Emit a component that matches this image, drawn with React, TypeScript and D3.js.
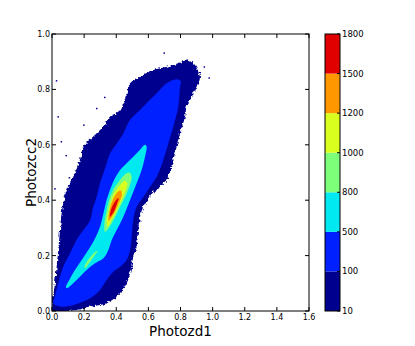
import React from 'react';
import * as d3 from 'd3';

// contour levels and colours (jet, discrete)
const levels = [10, 100, 500, 800, 1000, 1200, 1500, 1800];
const levelColors = ['#00008f', '#0020ff', '#00e8f0', '#7dff7a', '#d8ff1e', '#ff9700', '#e00000'];

const xTicks = [0, 0.2, 0.4, 0.6, 0.8, 1.0, 1.2, 1.4, 1.6];
const yTicks = [0, 0.2, 0.4, 0.6, 0.8, 1.0];

// contour outlines, [photozd1, photozcc2]
const contour10: [number, number][] = [
  [0, 0], [0.15, 0.004], [0.237, 0.016], [0.34, 0.028], [0.424, 0.064], [0.465, 0.1],
  [0.486, 0.136], [0.506, 0.196], [0.527, 0.232], [0.537, 0.292], [0.548, 0.34],
  [0.569, 0.376], [0.61, 0.412], [0.641, 0.436], [0.672, 0.448], [0.714, 0.473],
  [0.755, 0.545], [0.776, 0.593], [0.797, 0.641], [0.828, 0.701], [0.838, 0.737],
  [0.859, 0.761], [0.9, 0.81], [0.921, 0.84], [0.911, 0.864], [0.88, 0.894],
  [0.838, 0.904], [0.797, 0.897], [0.755, 0.888], [0.714, 0.882], [0.631, 0.87],
  [0.548, 0.846], [0.486, 0.822], [0.465, 0.786], [0.424, 0.726], [0.361, 0.702],
  [0.32, 0.666], [0.257, 0.63], [0.195, 0.594], [0.174, 0.545], [0.133, 0.485],
  [0.091, 0.437], [0.07, 0.389], [0.06, 0.353], [0.05, 0.292], [0.039, 0.22],
  [0.029, 0.16], [0.018, 0.1], [0.008, 0.053],
];

const contour100: [number, number][] = [
  [0.008, 0.028], [0.05, 0.016], [0.133, 0.022], [0.237, 0.046], [0.299, 0.076],
  [0.34, 0.112], [0.382, 0.142], [0.424, 0.16], [0.465, 0.184], [0.486, 0.22],
  [0.496, 0.268], [0.506, 0.328], [0.527, 0.376], [0.569, 0.412], [0.61, 0.448],
  [0.652, 0.485], [0.693, 0.545], [0.724, 0.605], [0.755, 0.665], [0.786, 0.737],
  [0.797, 0.81], [0.803, 0.828], [0.786, 0.836], [0.755, 0.834], [0.714, 0.822],
  [0.652, 0.786], [0.589, 0.75], [0.548, 0.726], [0.486, 0.69], [0.444, 0.641],
  [0.403, 0.605], [0.361, 0.569], [0.34, 0.533], [0.32, 0.497], [0.299, 0.461],
  [0.278, 0.412], [0.257, 0.376], [0.237, 0.328], [0.195, 0.292], [0.153, 0.256],
  [0.112, 0.208], [0.07, 0.16], [0.039, 0.1], [0.018, 0.052],
];

const contour500: [number, number][] = [
  [0.091, 0.082], [0.153, 0.112], [0.216, 0.148], [0.268, 0.172], [0.32, 0.19],
  [0.351, 0.22], [0.372, 0.256], [0.403, 0.292], [0.444, 0.34], [0.486, 0.401],
  [0.527, 0.461], [0.558, 0.509], [0.579, 0.557], [0.589, 0.594], [0.579, 0.6],
  [0.548, 0.582], [0.506, 0.557], [0.465, 0.533], [0.424, 0.509], [0.392, 0.479],
  [0.365, 0.443], [0.34, 0.401], [0.32, 0.352], [0.299, 0.304], [0.268, 0.262],
  [0.226, 0.22], [0.185, 0.184], [0.143, 0.148], [0.108, 0.112], [0.087, 0.088],
];

const contour800: [number, number][] = [
  [0.33, 0.286], [0.372, 0.316], [0.424, 0.376], [0.465, 0.424], [0.496, 0.485],
  [0.481, 0.5], [0.455, 0.494], [0.424, 0.473], [0.392, 0.449], [0.361, 0.412],
  [0.34, 0.364], [0.326, 0.316],
];
const contour800b: [number, number][] = [
  [0.205, 0.154], [0.237, 0.178], [0.274, 0.208], [0.284, 0.217], [0.27, 0.214],
  [0.237, 0.194], [0.205, 0.166],
];

const contour1000: [number, number][] = [
  [0.345, 0.304], [0.378, 0.334], [0.419, 0.382], [0.448, 0.418], [0.469, 0.461],
  [0.455, 0.47], [0.424, 0.455], [0.392, 0.431], [0.367, 0.398], [0.351, 0.358],
  [0.34, 0.325],
];

const contour1200: [number, number][] = [
  [0.353, 0.325], [0.386, 0.352], [0.415, 0.388], [0.436, 0.421], [0.427, 0.436],
  [0.403, 0.426], [0.376, 0.398], [0.357, 0.361],
];

const contour1500: [number, number][] = [
  [0.361, 0.34], [0.386, 0.359], [0.405, 0.388], [0.415, 0.408], [0.403, 0.403],
  [0.382, 0.385], [0.365, 0.361],
];

// stray low-density cells outside the outer contour
const strays: [number, number][] = [
  [0.03, 0.83], [0.04, 0.7], [0.11, 0.48], [0.98, 0.84], [0.06, 0.61], [0.09, 0.56],
  [0.2, 0.67], [0.28, 0.73], [0.33, 0.77], [0.95, 0.88], [0.7, 0.93], [0.02, 0.44],
];

const layers = [
  { pts: [contour10], lvl: 0 },
  { pts: [contour100], lvl: 1 },
  { pts: [contour500], lvl: 2 },
  { pts: [contour800, contour800b], lvl: 3 },
  { pts: [contour1000], lvl: 4 },
  { pts: [contour1200], lvl: 5 },
  { pts: [contour1500], lvl: 6 },
];

const W = 415, H = 346;
const m = { left: 52, right: 309, top: 34, bottom: 311 };
const cb = { x: 325, w: 15 };

export default function App() {
  const x = d3.scaleLinear().domain([0, 1.6]).range([m.left, m.right]);
  const y = d3.scaleLinear().domain([0, 1.0]).range([m.bottom, m.top]);
  const cy = d3.scaleLinear().domain([0, levels.length - 1]).range([m.bottom, m.top]);

  const line = d3.line<[number, number]>()
    .x(d => x(d[0]))
    .y(d => y(d[1]))
    .curve(d3.curveCatmullRomClosed.alpha(0.5));

  const font = 'DejaVu Sans, sans-serif';

  return (
    <svg width={W} height={H} style={{ position: 'absolute', left: 0, top: 0, background: '#fff' }}>
      <defs>
        <clipPath id="plotclip">
          <rect x={m.left} y={m.top} width={m.right - m.left} height={m.bottom - m.top} />
        </clipPath>
        <filter id="rough" x="-10%" y="-10%" width="120%" height="120%">
          <feTurbulence type="fractalNoise" baseFrequency="0.35" numOctaves={2} seed={3} />
          <feDisplacementMap in="SourceGraphic" scale={5} xChannelSelector="R" yChannelSelector="G" />
        </filter>
      </defs>

      <g clipPath="url(#plotclip)">
        {layers.map((l, i) =>
          l.pts.map((p, j) => (
            <path key={`${i}-${j}`} d={line(p) || ''} fill={levelColors[l.lvl]}
              filter={i === 0 ? 'url(#rough)' : undefined} />
          ))
        )}
        {strays.map((d, i) => (
          <rect key={i} x={x(d[0]) - 1} y={y(d[1]) - 1} width={1.5} height={1.5} fill={levelColors[0]} />
        ))}
      </g>

      {/* frame */}
      <rect x={m.left} y={m.top} width={m.right - m.left} height={m.bottom - m.top}
        fill="none" stroke="#000" strokeWidth={1} />

      {xTicks.map(t => (
        <g key={`x${t}`}>
          <line x1={x(t)} x2={x(t)} y1={m.bottom} y2={m.bottom - 4} stroke="#000" />
          <line x1={x(t)} x2={x(t)} y1={m.top} y2={m.top + 4} stroke="#000" />
          <text x={x(t)} y={m.bottom + 9} fontSize={8} fontFamily={font} textAnchor="middle">
            {t.toFixed(1)}
          </text>
        </g>
      ))}
      {yTicks.map(t => (
        <g key={`y${t}`}>
          <line x1={m.left} x2={m.left + 4} y1={y(t)} y2={y(t)} stroke="#000" />
          <line x1={m.right} x2={m.right - 4} y1={y(t)} y2={y(t)} stroke="#000" />
          <text x={m.left - 2} y={y(t) + 3} fontSize={8} fontFamily={font} textAnchor="end">
            {t.toFixed(1)}
          </text>
        </g>
      ))}

      <text x={(m.left + m.right) / 2} y={336} fontSize={13.5} fontFamily={font} textAnchor="middle">
        Photozd1
      </text>
      <text transform={`translate(36,${(m.top + m.bottom) / 2}) rotate(-90)`} fontSize={13.5}
        fontFamily={font} textAnchor="middle">
        Photozcc2
      </text>

      {/* colorbar */}
      {levelColors.map((c, i) => (
        <rect key={c} x={cb.x} y={cy(i + 1)} width={cb.w} height={cy(i) - cy(i + 1)} fill={c} />
      ))}
      <rect x={cb.x} y={m.top} width={cb.w} height={m.bottom - m.top} fill="none" stroke="#000" />
      {levels.map((v, i) => (
        <g key={v}>
          <line x1={cb.x + cb.w} x2={cb.x + cb.w - 3} y1={cy(i)} y2={cy(i)} stroke="#000" />
          <text x={cb.x + cb.w + 2} y={cy(i) + 3} fontSize={8.5} fontFamily={font}>{v}</text>
        </g>
      ))}
    </svg>
  );
}
